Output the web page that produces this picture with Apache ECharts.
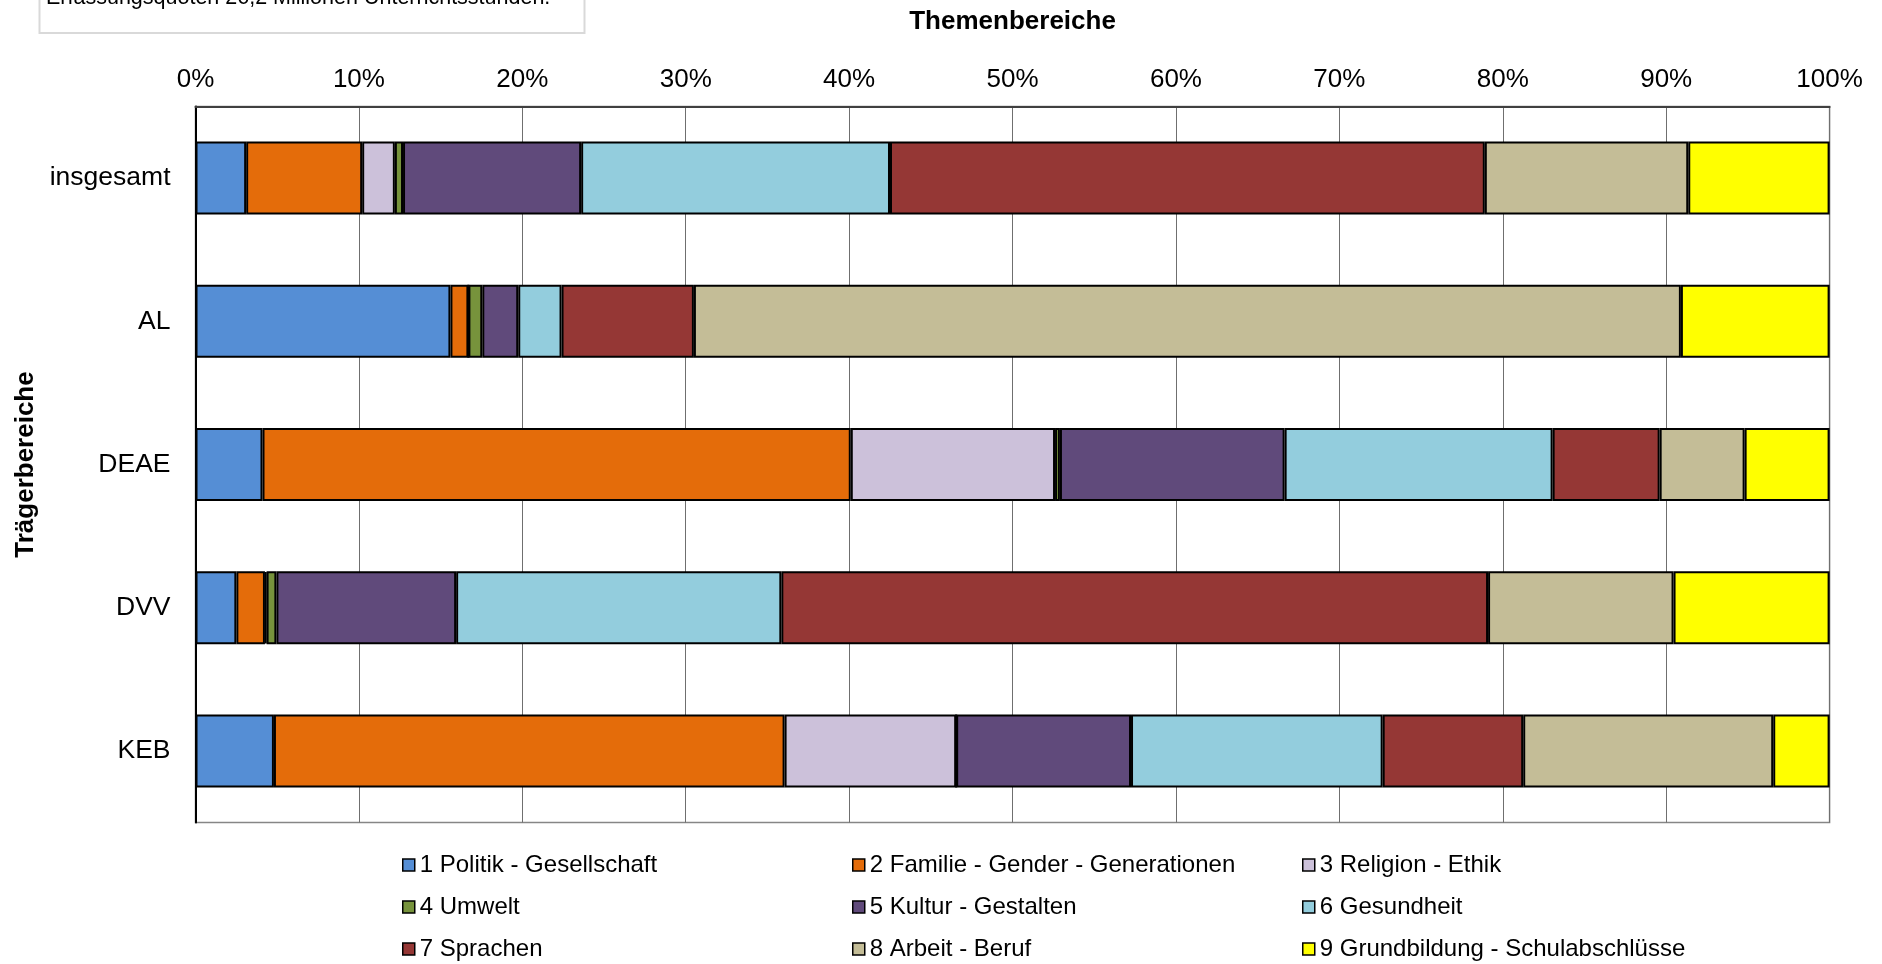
<!DOCTYPE html>
<html>
<head>
<meta charset="utf-8">
<script src="https://cdn.jsdelivr.net/npm/echarts@6/dist/echarts.min.js"></script>
<style>
  html, body { margin: 0; padding: 0; background: #fff; }
  #chart { width: 1882px; height: 964px; }
</style>
</head>
<body>
<div id="chart"></div>
<script>
// Anteile der Themenbereiche je Trägerbereich (in % der Unterrichtsstunden)
const categories = ['insgesamt', 'AL', 'DEAE', 'DVV', 'KEB'];
const themen = [
  '1 Politik - Gesellschaft',
  '2 Familie - Gender - Generationen',
  '3 Religion - Ethik',
  '4 Umwelt',
  '5 Kultur - Gestalten',
  '6 Gesundheit',
  '7 Sprachen',
  '8 Arbeit - Beruf',
  '9 Grundbildung - Schulabschlüsse'
];
const politik      = [3.1, 15.6, 4.1, 2.5, 4.8];
const familie      = [7.1, 1.1, 36.0, 1.75, 31.25];
const religion     = [2.0, 0, 12.5, 0.1, 10.5];
const umwelt       = [0.5, 0.85, 0.3, 0.6, 0];
const kultur       = [10.9, 2.2, 13.75, 11.0, 10.7];
const gesundheit   = [18.9, 2.65, 16.4, 19.9, 15.4];
const sprachen     = [36.4, 8.1, 6.55, 43.25, 8.6];
const arbeit       = [12.45, 60.4, 5.2, 11.35, 15.3];
const grundbildung = [8.65, 9.1, 5.2, 9.55, 3.45];
const tickLabels = ['0%', '10%', '20%', '30%', '40%', '50%', '60%', '70%', '80%', '90%', '100%'];

const values = [politik, familie, religion, umwelt, kultur, gesundheit, sprachen, arbeit, grundbildung];
const colors = ['#558ED5', '#E46C0A', '#CCC1DA', '#77933C', '#604A7B', '#93CDDD', '#953735', '#C4BD97', '#FFFF00'];

const FONT = 'Liberation Sans, Arial, sans-serif';

const series = themen.map((name, i) => ({
  name: name,
  type: 'bar',
  stack: 'gesamt',
  barCategoryGap: '49%',
  data: values[i],
  itemStyle: { color: colors[i], borderColor: '#000', borderWidth: 2 },
  emphasis: { disabled: true }
}));

// Legende in drei Spalten: 1/4/7, 2/5/8, 3/6/9
function legendColumn(col, left) {
  return {
    orient: 'vertical',
    left: left,
    bottom: -2,
    itemGap: 18,
    itemWidth: 12,
    itemHeight: 12,
    icon: 'rect',
    selectedMode: false,
    data: [themen[col], themen[col + 3], themen[col + 6]],
    itemStyle: { borderColor: '#000', borderWidth: 1.5 },
    textStyle: { fontFamily: FONT, fontSize: 24, color: '#000' }
  };
}

const chart = echarts.init(document.getElementById('chart'));
chart.setOption({
  animation: false,
  backgroundColor: '#fff',
  grid: {
    left: 195.5, right: 52.4, top: 106.5, bottom: 141.5,
    show: true, borderColor: '#868686', borderWidth: 1.5, backgroundColor: 'transparent'
  },
  xAxis: {
    type: 'value',
    position: 'top',
    min: 0, max: 100, interval: 10,
    name: 'Themenbereiche',
    nameLocation: 'middle',
    nameGap: 72,
    nameTextStyle: { fontFamily: FONT, fontSize: 26, fontWeight: 'bold', color: '#000' },
    axisLine: { show: true, lineStyle: { color: '#404040', width: 2 } },
    axisTick: { show: false },
    axisLabel: {
      margin: 14,
      fontFamily: FONT, fontSize: 26, color: '#000',
      formatter: v => tickLabels[Math.round(v / 10)]
    },
    splitLine: { show: true, lineStyle: { color: '#6f6f6f', width: 1 } }
  },
  yAxis: {
    type: 'category',
    inverse: true,
    data: categories,
    name: 'Trägerbereiche',
    nameLocation: 'middle',
    nameGap: 157,
    nameRotate: 90,
    nameTextStyle: { fontFamily: FONT, fontSize: 26, fontWeight: 'bold', color: '#000' },
    axisLine: { show: true, lineStyle: { color: '#000', width: 2 } },
    axisTick: { show: false },
    axisLabel: { margin: 25, fontFamily: FONT, fontSize: 26.5, color: '#000' }
  },
  legend: [legendColumn(0, 397), legendColumn(1, 847), legendColumn(2, 1297)],
  graphic: [
    {
      type: 'rect',
      shape: { x: 39.5, y: -60, width: 545, height: 93 },
      style: { fill: '#fff', stroke: '#d9d9d9', lineWidth: 2 },
      z: 10
    },
    {
      type: 'text',
      left: 46,
      top: -13,
      style: { text: 'Erfassungsquoten 26,2 Millionen Unterrichtsstunden.', font: '21.5px ' + FONT, fill: '#000' },
      z: 11
    }
  ],
  series: series
});
</script>
</body>
</html>
